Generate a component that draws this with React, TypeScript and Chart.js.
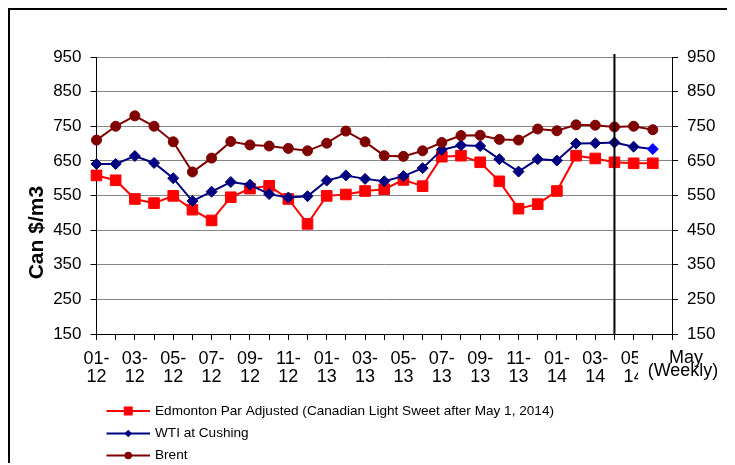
import React, { useEffect, useRef } from "react";
import { Chart, registerables } from "chart.js";

Chart.register(...registerables);

// ---- data ----
const categories = [
  "01-12", "02-12", "03-12", "04-12", "05-12", "06-12", "07-12", "08-12", "09-12", "10-12", "11-12", "12-12",
  "01-13", "02-13", "03-13", "04-13", "05-13", "06-13", "07-13", "08-13", "09-13", "10-13", "11-13", "12-13",
  "01-14", "02-14", "03-14", "04-14", "05-14", "", "",
];
const edmonton = [608, 594, 540, 528, 549, 509, 478, 545, 570, 578, 540, 468, 549, 553, 563, 568, 595, 577, 662, 665, 646, 591, 512, 525, 563, 665, 657, 646, 643, 643];
const wti = [641, 641, 664, 644, 600, 534, 561, 589, 581, 554, 544, 548, 593, 608, 598, 591, 606, 629, 682, 695, 693, 655, 619, 655, 651, 700, 701, 703, 691, 684];
const brent = [710, 750, 780, 750, 705, 618, 658, 706, 696, 693, 686, 679, 701, 736, 705, 665, 663, 679, 703, 723, 724, 712, 710, 742, 737, 754, 753, 748, 750, 740];
const yTicks = [150, 250, 350, 450, 550, 650, 750, 850, 950];
const seriesNames = [
  "Edmonton Par Adjusted (Canadian Light Sweet after May 1, 2014)",
  "WTI at Cushing",
  "Brent",
];
const yTitle = "Can $/m3";
const weeklyLabel = ["May", "(Weekly)"];
const dividerIndex = 27;

const FONT = "'Liberation Sans', Arial, Helvetica, sans-serif";
const RED = "#FF0000";
const NAVY = "#000080";
const MAROON = "#800000";
const BLUE = "#0000FF";

const wtiPointColors = wti.map((_, i) => (i === wti.length - 1 ? BLUE : NAVY));

const overlayPlugin = {
  id: "overlay",
  afterDatasetsDraw(chart: any) {
    const { ctx, chartArea, scales } = chart;
    const x = scales.x.getPixelForValue(dividerIndex);
    ctx.save();
    ctx.strokeStyle = "#000";
    ctx.lineWidth = 2;
    ctx.beginPath();
    ctx.moveTo(x, chartArea.top - 3);
    ctx.lineTo(x, chartArea.bottom);
    ctx.stroke();
    ctx.restore();
  },
  afterDraw(chart: any) {
    const { ctx, chartArea } = chart;
    ctx.save();
    // y axis title
    ctx.translate(chartArea.left - 59.5, chartArea.top + 0.634 * (chartArea.bottom - chartArea.top));
    ctx.rotate(-Math.PI / 2);
    ctx.font = `bold 21px ${FONT}`;
    ctx.fillStyle = "#000";
    ctx.textAlign = "center";
    ctx.textBaseline = "middle";
    ctx.fillText(yTitle, 0, 0);
    ctx.restore();

    // weekly text box
    ctx.save();
    const bx = chartArea.right - 34;
    const by = chartArea.bottom + 11;
    ctx.fillStyle = "#fff";
    ctx.fillRect(bx, by, chart.width - bx, 46);
    ctx.fillStyle = "#000";
    ctx.font = `18px ${FONT}`;
    ctx.textAlign = "center";
    ctx.textBaseline = "alphabetic";
    ctx.fillText(weeklyLabel[0], chartArea.right + 14, chartArea.bottom + 29);
    ctx.fillText(weeklyLabel[1], chartArea.right + 11, chartArea.bottom + 41.5);
    ctx.restore();

    // legend
    ctx.save();
    const colors = [RED, NAVY, MAROON];
    const lx0 = chartArea.left + 10;
    const lx1 = lx0 + 43.5;
    const mx = (lx0 + lx1) / 2;
    const rowY = [chartArea.bottom + 77, chartArea.bottom + 99.5, chartArea.bottom + 121.5];
    ctx.font = `13.6px ${FONT}`;
    ctx.textBaseline = "middle";
    ctx.textAlign = "left";
    seriesNames.forEach((name, i) => {
      const y = rowY[i];
      ctx.strokeStyle = colors[i];
      ctx.fillStyle = colors[i];
      ctx.lineWidth = 2;
      ctx.beginPath();
      ctx.moveTo(lx0, y);
      ctx.lineTo(lx1, y);
      ctx.stroke();
      ctx.beginPath();
      if (i === 0) {
        ctx.rect(mx - 4.5, y - 4.5, 9, 9);
      } else if (i === 1) {
        ctx.moveTo(mx, y - 3.8);
        ctx.lineTo(mx + 3.8, y);
        ctx.lineTo(mx, y + 3.8);
        ctx.lineTo(mx - 3.8, y);
        ctx.closePath();
      } else {
        ctx.arc(mx, y, 3.8, 0, Math.PI * 2);
      }
      ctx.fill();
      ctx.fillStyle = "#000";
      ctx.fillText(name, lx1 + 5, y);
    });
    ctx.restore();
  },
};

export default function App() {
  const ref = useRef<HTMLCanvasElement | null>(null);

  useEffect(() => {
    document.documentElement.style.overflow = "hidden";
    document.body.style.overflow = "hidden";
    if (!ref.current) return;
    const tickFont = { family: FONT, size: 17 };
    const chart = new Chart(ref.current, {
      type: "line",
      data: {
        labels: categories,
        datasets: [
          {
            label: seriesNames[0],
            data: edmonton,
            borderColor: RED,
            backgroundColor: RED,
            pointBackgroundColor: RED,
            pointBorderColor: RED,
            pointStyle: "rect",
            pointRadius: 7.5,
            pointBorderWidth: 1,
            borderWidth: 2,
            order: 3,
          },
          {
            label: seriesNames[1],
            data: wti,
            borderColor: NAVY,
            backgroundColor: NAVY,
            pointBackgroundColor: wtiPointColors,
            pointBorderColor: wtiPointColors,
            pointStyle: "rectRot",
            pointRadius: 5.5,
            pointBorderWidth: 1,
            borderWidth: 2,
            order: 2,
          },
          {
            label: seriesNames[2],
            data: brent,
            borderColor: MAROON,
            backgroundColor: MAROON,
            pointBackgroundColor: MAROON,
            pointBorderColor: MAROON,
            pointStyle: "circle",
            pointRadius: 5,
            pointBorderWidth: 1,
            borderWidth: 2,
            order: 1,
          },
        ],
      },
      options: {
        animation: false,
        responsive: false,
        devicePixelRatio: 1,
        layout: { padding: { left: 0, right: 0, top: 47, bottom: 79 } },
        plugins: { legend: { display: false }, tooltip: { enabled: false } },
        scales: {
          x: {
            type: "category",
            offset: false,
            grid: { drawOnChartArea: false, drawTicks: true, tickLength: 6, tickColor: "#000" },
            border: { display: true, color: "#000", width: 1 },
            afterFit: (s: any) => { s.height = 50; },
            ticks: {
              autoSkip: false,
              maxRotation: 0,
              minRotation: 0,
              padding: 10,
              color: "#000",
              font: { family: FONT, size: 18, lineHeight: 1.0 },
              callback: (_v: any, i: number) => {
                if (i % 2 !== 0) return "";
                const c = categories[i];
                if (!c) return "";
                const parts = c.split("-");
                return [parts[0] + "-", parts[1]];
              },
            },
          },
          y: {
            position: "left",
            min: 150,
            max: 950,
            afterBuildTicks: (s: any) => { s.ticks = yTicks.map((v) => ({ value: v })); },
            afterFit: (s: any) => { s.width = 86.5; },
            grid: { color: "#868686", lineWidth: 1, tickLength: 6, tickColor: "#000" },
            border: { display: true, color: "#000", width: 1 },
            ticks: { color: "#000", padding: 9, font: tickFont },
          },
          y2: {
            position: "right",
            min: 150,
            max: 950,
            afterBuildTicks: (s: any) => { s.ticks = yTicks.map((v) => ({ value: v })); },
            afterFit: (s: any) => { s.width = 65; },
            grid: { drawOnChartArea: false, tickLength: 6, tickColor: "#000" },
            border: { display: true, color: "#000", width: 1 },
            ticks: { color: "#000", padding: 9, font: tickFont },
          },
        },
      },
      plugins: [overlayPlugin],
    });
    return () => chart.destroy();
  }, []);

  return (
    <div style={{ width: 727, height: 453, borderLeft: "2px solid #000", borderTop: "2px solid #000", background: "#fff" }}>
      <canvas ref={ref} width={727} height={453} style={{ display: "block" }} />
    </div>
  );
}
